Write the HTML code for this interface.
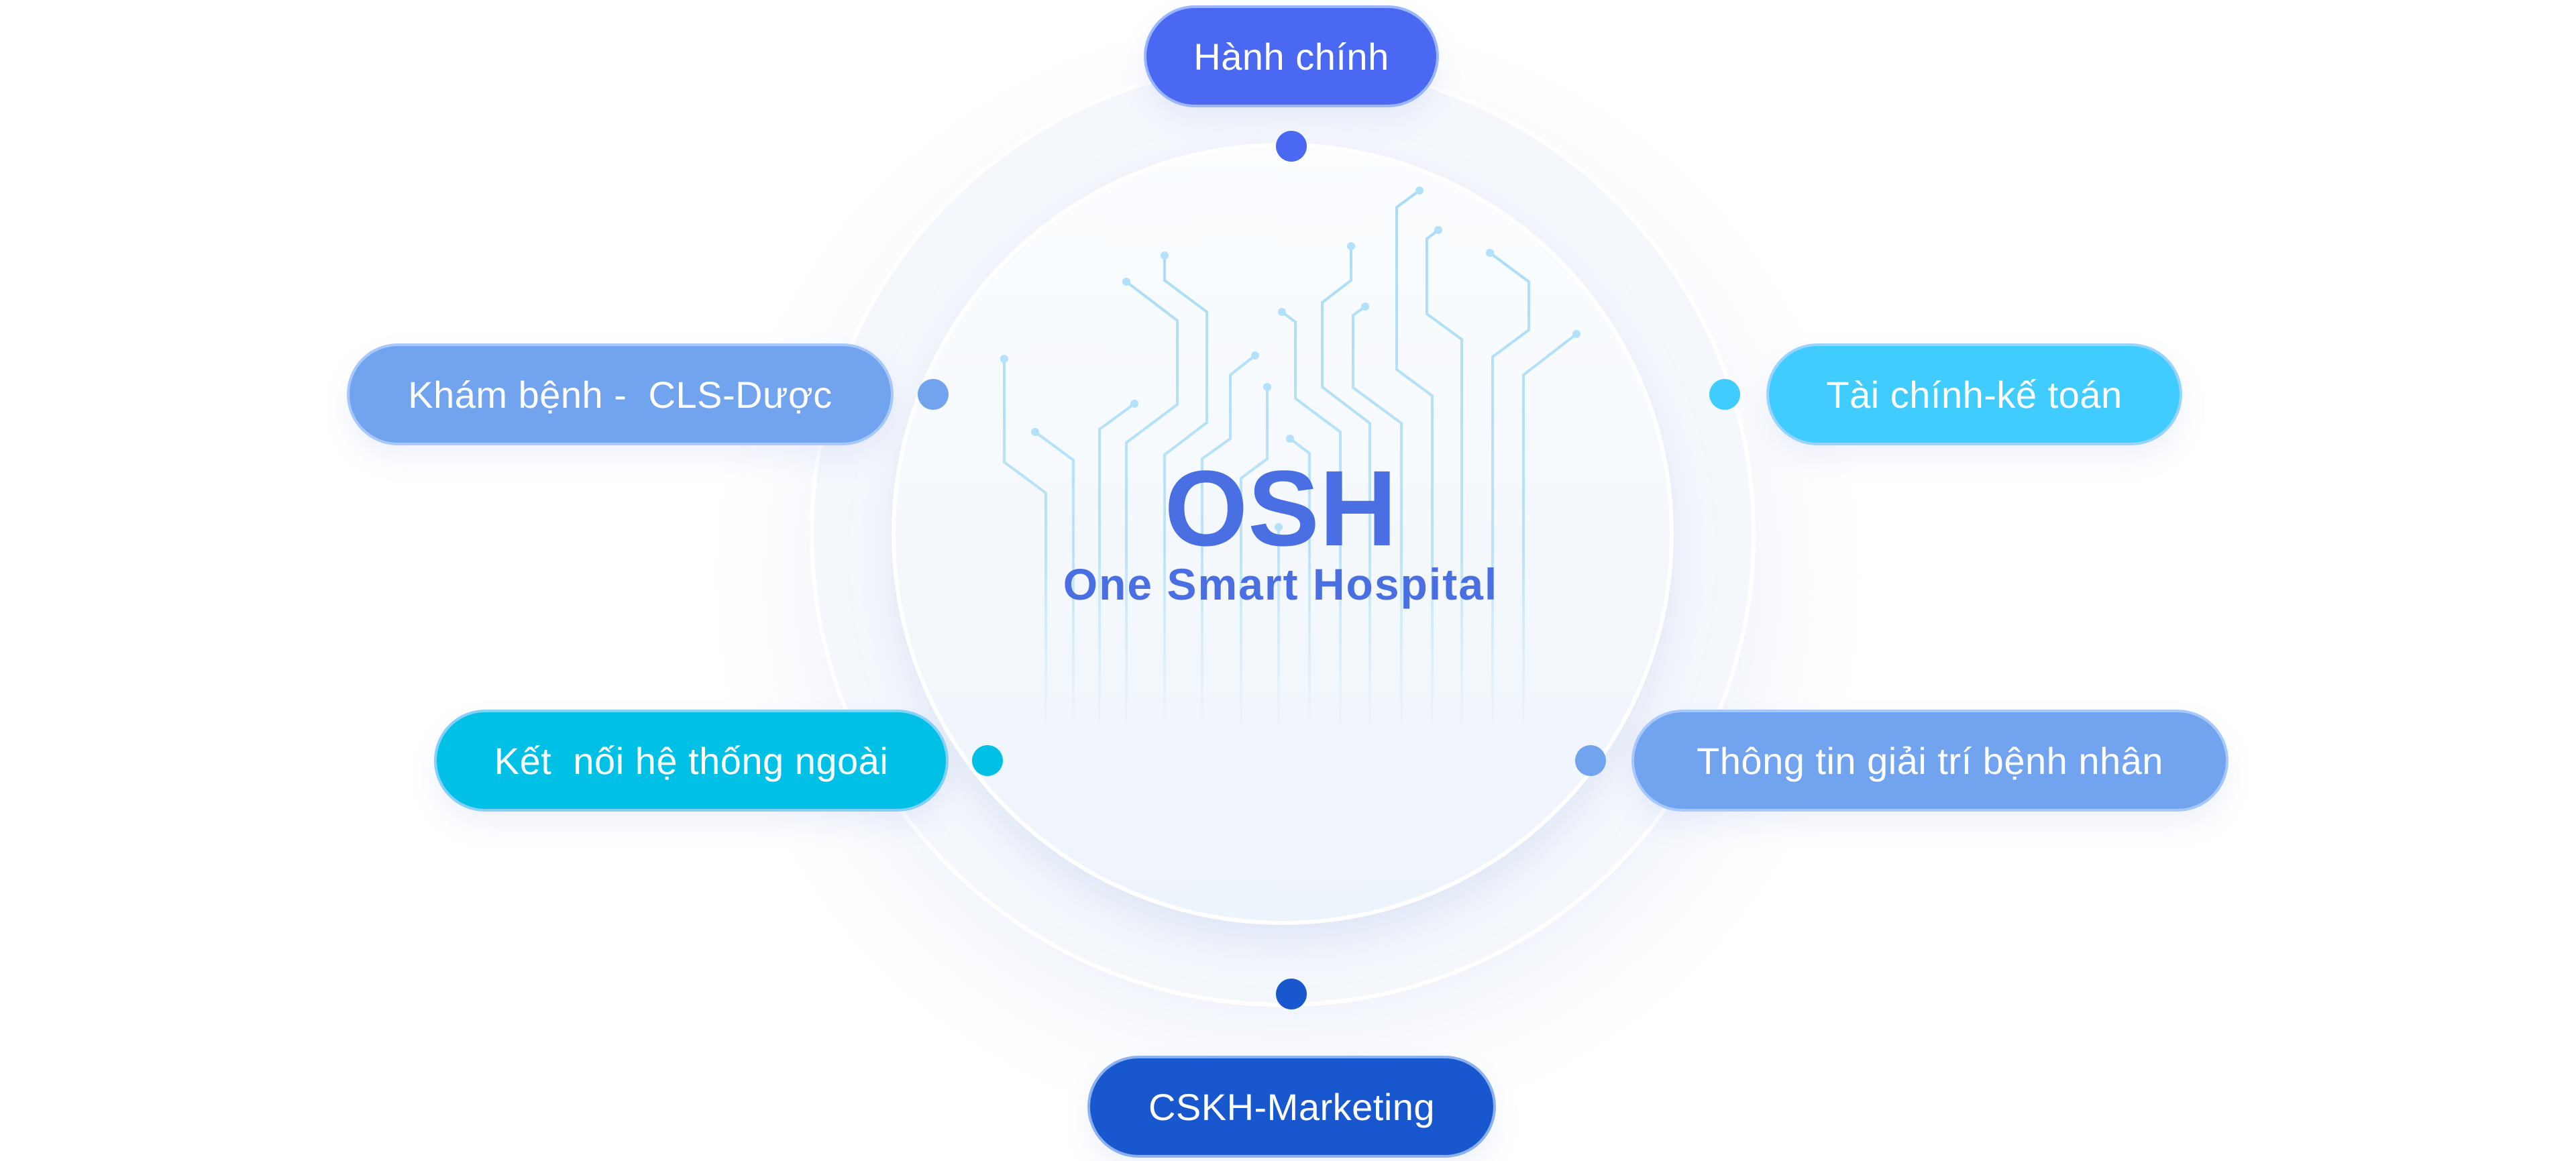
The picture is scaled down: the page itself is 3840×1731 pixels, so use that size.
<!DOCTYPE html>
<html><head><meta charset="utf-8"><style>
html,body{margin:0;padding:0;background:#fff;}
body{width:3840px;height:1731px;position:relative;overflow:hidden;font-family:"Liberation Sans",sans-serif;}
.pill{position:absolute;border-radius:80px;color:#fff;font-size:56px;display:flex;align-items:center;justify-content:center;box-sizing:border-box;border:4px solid rgba(190,215,255,0.7);box-shadow:0 20px 40px rgba(120,150,220,0.12);letter-spacing:0.5px;white-space:pre;}
.dot{position:absolute;width:46px;height:46px;border-radius:50%;transform:translate(-50%,-50%);}
</style></head><body>
<svg width="3840" height="1731" style="position:absolute;left:0;top:0">
<defs>
<radialGradient id="glow" cx="0.5" cy="0.5" r="0.5">
<stop offset="0.6" stop-color="#e1e9f8" stop-opacity="1"/>
<stop offset="1" stop-color="#ffffff" stop-opacity="0"/>
</radialGradient>
<linearGradient id="inner" x1="0" y1="0" x2="0" y2="1">
<stop offset="0" stop-color="#fbfdff"/><stop offset="1" stop-color="#eef4fb"/>
</linearGradient>
<linearGradient id="fade" x1="0" y1="280" x2="0" y2="1120" gradientUnits="userSpaceOnUse">
<stop offset="0" stop-color="#a9dcf8" stop-opacity="1"/>
<stop offset="0.65" stop-color="#b5e1f8" stop-opacity="0.9"/>
<stop offset="1" stop-color="#c8e8fa" stop-opacity="0"/>
</linearGradient>
<filter id="sh" x="-20%" y="-20%" width="140%" height="140%"><feDropShadow dx="0" dy="30" stdDeviation="30" flood-color="#b8c8ea" flood-opacity="0.35"/></filter>
</defs>
<ellipse cx="1920" cy="860" rx="900" ry="880" fill="url(#glow)"/>
<circle cx="1912" cy="796" r="702" fill="#f4f7fc" stroke="#ffffff" stroke-width="6"/>
<circle cx="1912" cy="796" r="580" fill="url(#inner)" stroke="#ffffff" stroke-width="6" filter="url(#sh)"/>
<g fill="none" stroke="url(#fade)" stroke-width="4">
<path d="M1497 535 V689 L1559 735 V1120"/>
<path d="M1543 644 L1600 686 V1120"/>
<path d="M1691 602 L1639 640 V1120"/>
<path d="M1679 420 L1755 478 V603 L1679 660 V1120"/>
<path d="M1736 381 V418 L1799 465 V630 L1736 678 V1120"/>
<path d="M1871 530 L1834 559 V654 L1792 684 V1120"/>
<path d="M1889 577 V684 L1850 713 V1120"/>
<path d="M1923 654 L1952 676 V1120"/>
<path d="M1911 465 L1931 480 V594 L1998 644 V1120"/>
<path d="M2014 367 V418 L1971 451 V577 L2042 631 V1120"/>
<path d="M2035 457 L2017 470 V578 L2089 631 V1120"/>
<path d="M2116 284 L2082 309 V551 L2135 590 V1120"/>
<path d="M2144 343 L2127 356 V468 L2179 506 V1120"/>
<path d="M2221 377 L2279 420 V492 L2225 532 V1120"/>
<path d="M2350 498 L2271 559 V1120"/>
<path d="M1906 786 V1120"/>
</g>
<g fill="#b3e0fa">
<circle cx="1497" cy="535" r="6"/><circle cx="1543" cy="644" r="6"/><circle cx="1691" cy="602" r="6"/>
<circle cx="1679" cy="420" r="6"/><circle cx="1736" cy="381" r="6"/><circle cx="1871" cy="530" r="6"/>
<circle cx="1889" cy="577" r="6"/><circle cx="1923" cy="654" r="6"/><circle cx="1911" cy="465" r="6"/>
<circle cx="2014" cy="367" r="6"/><circle cx="2035" cy="457" r="6"/><circle cx="2116" cy="284" r="6"/>
<circle cx="2144" cy="343" r="6"/><circle cx="2221" cy="377" r="6"/><circle cx="2350" cy="498" r="6"/>
<circle cx="1906" cy="786" r="6"/>
</g>
<text x="1909" y="813" text-anchor="middle" font-family="Liberation Sans, sans-serif" font-weight="bold" font-size="160" fill="#4a6fe3">OSH</text>
<text x="1909" y="894" text-anchor="middle" font-family="Liberation Sans, sans-serif" font-weight="bold" font-size="66" fill="#4a6fe3" letter-spacing="2">One Smart Hospital</text>
</svg>

<div class="pill" style="left:1705px;top:8px;width:440px;height:152px;background:#4a68f2;">Hành chính</div>
<div class="dot" style="left:1925px;top:218px;background:#4a68f2"></div>

<div class="pill" style="left:517px;top:512px;width:815px;height:152px;background:#72a3ee;">Khám bệnh -  CLS-Dược</div>
<div class="dot" style="left:1391px;top:588px;background:#72a3ee"></div>

<div class="pill" style="left:2633px;top:512px;width:620px;height:152px;background:#40ccff;">Tài chính-kế toán</div>
<div class="dot" style="left:2571px;top:588px;background:#40ccff"></div>

<div class="pill" style="left:647px;top:1058px;width:767px;height:152px;background:#00c0e6;">Kết  nối hệ thống ngoài</div>
<div class="dot" style="left:1472px;top:1134px;background:#00c0e6"></div>

<div class="pill" style="left:2432px;top:1058px;width:890px;height:152px;background:#72a3ee;">Thông tin giải trí bệnh nhân</div>
<div class="dot" style="left:2371px;top:1134px;background:#72a3ee"></div>

<div class="pill" style="left:1621px;top:1574px;width:609px;height:152px;background:#1957cf;">CSKH-Marketing</div>
<div class="dot" style="left:1925px;top:1482px;background:#1957cf"></div>
</body></html>
